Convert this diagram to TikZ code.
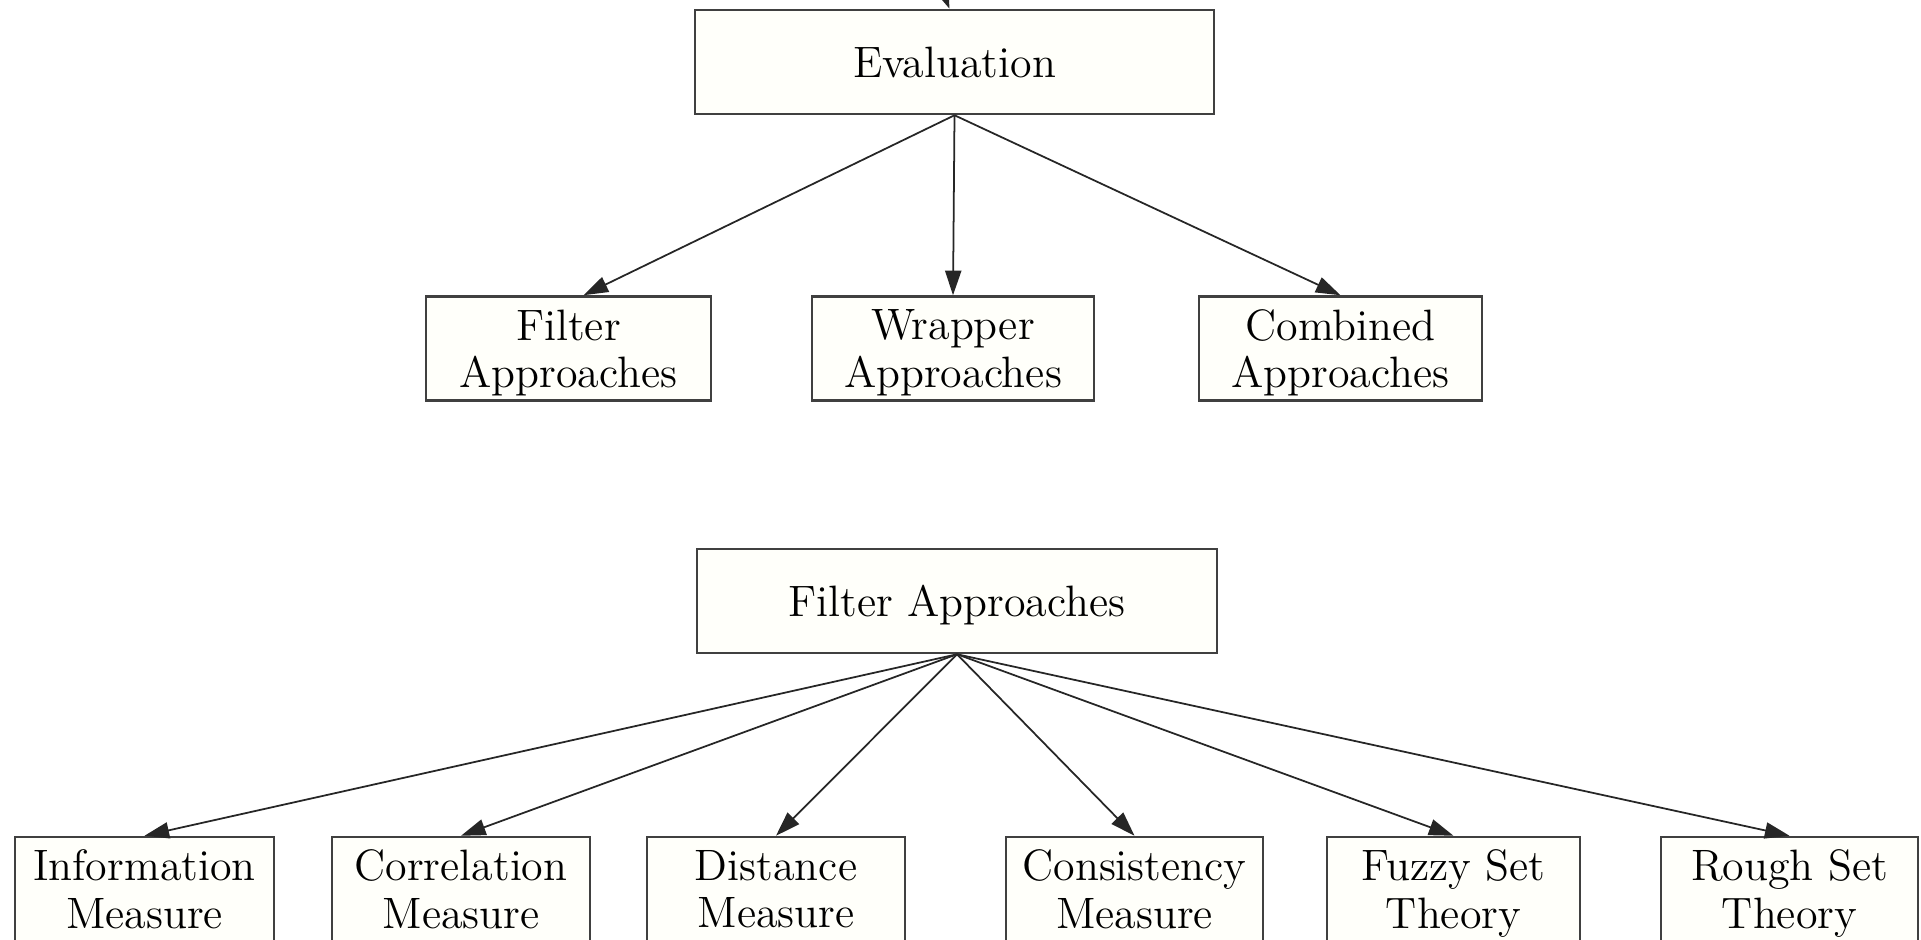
\documentclass[tikz,border=0pt]{standalone}
\usepackage{tikz}
\usetikzlibrary{arrows.meta}

\begin{document}
\begin{tikzpicture}[x=0.01cm,y=-0.01cm,
    box/.style={draw=black!75,line width=0.7pt,fill=white!98!yellow,align=center,
      font=\fontsize{12.5}{13.5}\selectfont,inner sep=0pt,minimum height=1.04cm,
      text depth=0pt},
    arr/.style={draw=black!85,line width=0.5pt,-{Triangle[length=7pt,width=4.6pt]}}]

  \useasboundingbox (0,0) rectangle (1921,940);
  \clip (0,0) rectangle (1921,940);

  % first tree
  \node[box,minimum width=5.19cm] (eval) at (954.5,62) {Evaluation};
  \node[box,minimum width=2.85cm] (filt) at (568.5,348.5) {Filter\\Approaches};
  \node[box,minimum width=2.82cm] (wrap) at (953,348.5) {Wrapper\\Approaches};
  \node[box,minimum width=2.83cm] (comb) at (1340.5,348.5) {Combined\\Approaches};

  % something above, out of the picture
  \coordinate (up) at (930,-40);
  \draw[arr] (up) -- ([xshift=-0.05cm]eval.north);

  \draw[arr] (eval.south) -- ([xshift=0.15cm]filt.north);
  \draw[arr] (eval.south) -- (wrap.north);
  \draw[arr] (eval.south) -- (comb.north);

  % second tree
  \node[box,minimum width=5.2cm] (filt2) at (957,601) {Filter Approaches};
  \node[box,minimum width=2.59cm] (info) at (144.5,889) {Information\\Measure};
  \node[box,minimum width=2.58cm] (corr) at (461,889) {Correlation\\Measure};
  \node[box,minimum width=2.58cm] (dist) at (776,889) {Distance\\Measure};
  \node[box,minimum width=2.57cm] (cons) at (1134.5,889) {Consistency\\Measure};
  \node[box,minimum width=2.53cm] (fuzzy) at (1453.5,889) {Fuzzy Set\\Theory};
  \node[box,minimum width=2.57cm] (rough) at (1789.5,889) {Rough Set\\Theory};

  \foreach \n in {info,corr,dist,cons,fuzzy,rough}
    \draw[arr] (filt2.south) -- (\n.north);

\end{tikzpicture}
\end{document}
